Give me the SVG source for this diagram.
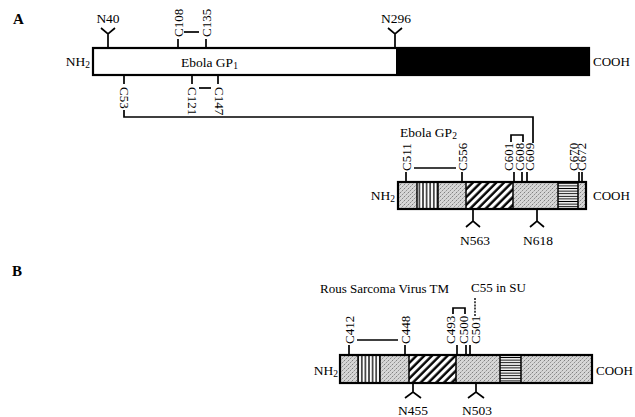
<svg xmlns="http://www.w3.org/2000/svg" width="635" height="417" viewBox="0 0 635 417">
<style>
text{font-family:"Liberation Serif","Times New Roman",serif;font-size:13.5px;fill:#000}
.b{font-weight:bold;font-size:15px}
.sub{font-size:9.5px}
.c{font-size:13px}
.ln{stroke:#000;stroke-width:1.7;fill:none}
.bar{stroke:#000;stroke-width:2.2;fill:none}
.sep{stroke:#000;stroke-width:1.5}
.dash{stroke:#000;stroke-width:1.4;stroke-dasharray:2 1.2}
</style>
<defs>
<pattern id="stip" width="4" height="4" patternUnits="userSpaceOnUse">
<rect width="4" height="4" fill="#d6d6d6"/>
<rect x="0" y="0" width="1" height="1" fill="#808080"/>
<rect x="2" y="2" width="1" height="1" fill="#909090"/>
<rect x="3" y="1" width="1" height="1" fill="#b0b0b0"/>
<rect x="1" y="3" width="1" height="1" fill="#b8b8b8"/>
</pattern>
<pattern id="hatch" width="5.5" height="5.5" patternUnits="userSpaceOnUse" patternTransform="rotate(45)">
<rect width="5.5" height="5.5" fill="#fff"/>
<line x1="1.5" y1="0" x2="1.5" y2="5.5" stroke="#000" stroke-width="2.4"/>
</pattern>
<pattern id="vstr" width="3.6" height="10" patternUnits="userSpaceOnUse">
<rect width="3.6" height="10" fill="#fff"/>
<line x1="1.8" y1="0" x2="1.8" y2="10" stroke="#000" stroke-width="1.3"/>
</pattern>
<pattern id="hstr" width="10" height="2.6" patternUnits="userSpaceOnUse">
<rect width="10" height="2.6" fill="#fff"/>
<line x1="0" y1="1.3" x2="10" y2="1.3" stroke="#000" stroke-width="1"/>
</pattern>
</defs>

<text class="b" x="13" y="24">A</text>
<text class="b" x="12" y="276">B</text>

<g id="gp1">
<rect x="93" y="48" width="303" height="27" fill="#fff"/>
<rect x="396" y="48" width="193" height="27" fill="#000"/>
<rect class="bar" x="93" y="48" width="496" height="27"/>
<text x="90" y="66" text-anchor="end">NH<tspan class="sub" dy="2">2</tspan></text>
<text class="c" x="593" y="66">COOH</text>
<text x="181" y="67">Ebola GP<tspan class="sub" dy="2">1</tspan></text>
</g>

<g id="gp1-sites">
<path class="ln" d="M108,48V34M101,28L108,34L115,28"/>
<text x="108" y="23" text-anchor="middle">N40</text>
<path class="ln" d="M395,48V34M388,28L395,34L402,28"/>
<text x="396" y="23" text-anchor="middle">N296</text>
<line class="ln" x1="178" y1="48" x2="178" y2="39"/>
<text class="c" transform="translate(182.5,37) rotate(-90)">C108</text>
<line class="ln" x1="206" y1="48" x2="206" y2="39"/>
<text class="c" transform="translate(210.5,37) rotate(-90)">C135</text>
<line class="ln" x1="124" y1="75" x2="124" y2="84"/>
<text class="c" transform="translate(119.5,87) rotate(90)">C53</text>
<line class="ln" x1="192" y1="75" x2="192" y2="84"/>
<text class="c" transform="translate(187.5,87) rotate(90)">C121</text>
<line class="ln" x1="218" y1="75" x2="218" y2="84"/>
<text class="c" transform="translate(215,87) rotate(90)">C147</text>
</g>

<g id="gp2">
<rect x="398" y="182" width="19" height="27" fill="url(#stip)"/>
<rect x="417" y="182" width="21" height="27" fill="url(#vstr)"/>
<rect x="438" y="182" width="28" height="27" fill="url(#stip)"/>
<rect x="466" y="182" width="47" height="27" fill="url(#hatch)"/>
<rect x="513" y="182" width="45" height="27" fill="url(#stip)"/>
<rect x="558" y="182" width="20" height="27" fill="url(#hstr)"/>
<rect x="578" y="182" width="8" height="27" fill="url(#stip)"/>
<path class="sep" d="M417,182V209M438,182V209M466,182V209M513,182V209M558,182V209M578,182V209"/>
<rect class="bar" x="398" y="182" width="188" height="27"/>
<text x="395" y="200" text-anchor="end">NH<tspan class="sub" dy="2">2</tspan></text>
<text class="c" x="593" y="200">COOH</text>
<text x="400" y="137">Ebola GP<tspan class="sub" dy="2">2</tspan></text>
</g>

<g id="gp2-sites">
<line class="ln" x1="406" y1="182" x2="406" y2="172"/>
<text class="c" transform="translate(411,171) rotate(-90)">C511</text>
<line class="ln" x1="462" y1="182" x2="462" y2="172"/>
<text class="c" transform="translate(466.5,171) rotate(-90)">C556</text>
<line class="ln" x1="514" y1="182" x2="514" y2="172"/>
<text class="c" transform="translate(512.5,171) rotate(-90)">C601</text>
<line class="ln" x1="522" y1="182" x2="522" y2="172"/>
<text class="c" transform="translate(523.5,171) rotate(-90)">C608</text>
<line class="ln" x1="527" y1="182" x2="527" y2="172"/>
<text class="c" transform="translate(533.5,171) rotate(-90)">C609</text>
<line class="ln" x1="579" y1="182" x2="579" y2="172"/>
<text class="c" transform="translate(577.5,171) rotate(-90)">C670</text>
<line class="ln" x1="582" y1="182" x2="582" y2="172"/>
<text class="c" transform="translate(586,171) rotate(-90)">C672</text>
<path class="ln" d="M473,209V221M466,227L473,221L480,227"/>
<text x="475" y="245" text-anchor="middle">N563</text>
<path class="ln" d="M537,209V221M530,227L537,221L544,227"/>
<text x="538" y="245" text-anchor="middle">N618</text>
</g>

<g id="rsv">
<rect x="340" y="355" width="18" height="28" fill="url(#stip)"/>
<rect x="358" y="355" width="22" height="28" fill="url(#vstr)"/>
<rect x="380" y="355" width="29" height="28" fill="url(#stip)"/>
<rect x="409" y="355" width="47" height="28" fill="url(#hatch)"/>
<rect x="456" y="355" width="44" height="28" fill="url(#stip)"/>
<rect x="500" y="355" width="21" height="28" fill="url(#hstr)"/>
<rect x="521" y="355" width="71" height="28" fill="url(#stip)"/>
<path class="sep" d="M358,355V383M380,355V383M409,355V383M456,355V383M500,355V383M521,355V383"/>
<rect class="bar" x="340" y="355" width="252" height="28"/>
<text x="338" y="375" text-anchor="end">NH<tspan class="sub" dy="2">2</tspan></text>
<text class="c" x="596" y="375">COOH</text>
<text class="c" x="320" y="293">Rous Sarcoma Virus TM</text>
<text class="c" x="471" y="292">C55 in SU</text>
</g>

<g id="rsv-sites">
<line class="ln" x1="349" y1="355" x2="349" y2="345"/>
<text class="c" transform="translate(353.5,344) rotate(-90)">C412</text>
<line class="ln" x1="405" y1="355" x2="405" y2="345"/>
<text class="c" transform="translate(410,344) rotate(-90)">C448</text>
<line class="ln" x1="457" y1="355" x2="457" y2="345"/>
<text class="c" transform="translate(454.5,344) rotate(-90)">C493</text>
<line class="ln" x1="466" y1="355" x2="466" y2="345"/>
<text class="c" transform="translate(467.5,344) rotate(-90)">C500</text>
<line class="ln" x1="470" y1="355" x2="470" y2="345"/>
<text class="c" transform="translate(479.5,344) rotate(-90)">C501</text>
<path class="ln" d="M413,383V392M405,398L413,392L421,398"/>
<text x="413" y="415" text-anchor="middle">N455</text>
<path class="ln" d="M476,383V392M468,398L476,392L484,398"/>
<text x="477" y="415" text-anchor="middle">N503</text>
</g>

<g id="connectors">
<line class="ln" x1="184" y1="32" x2="199" y2="32"/>
<line class="ln" x1="199" y1="88" x2="211" y2="88"/>
<path class="ln" d="M124,110V117H533V143"/>
<line class="ln" x1="414" y1="168" x2="456" y2="168"/>
<path class="ln" d="M511,142V135H523V142"/>
<line class="ln" x1="357" y1="340" x2="398" y2="340"/>
<path class="ln" d="M453,314V308H465V314"/>
<line class="dash" x1="475" y1="298" x2="475" y2="316"/>
</g>
</svg>
